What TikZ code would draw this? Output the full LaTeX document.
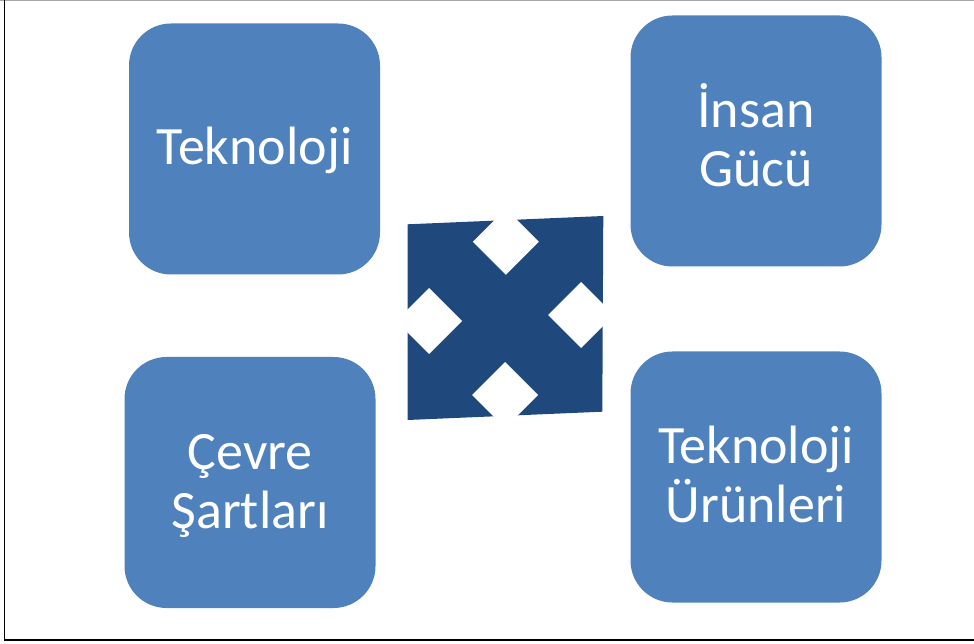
\documentclass[tikz,border=0pt]{standalone}
\usepackage{fontspec}
\setmainfont{Carlito}
\usetikzlibrary{positioning}

\definecolor{boxblue}{HTML}{4F81BD}
\definecolor{darkblue}{HTML}{1F497D}
% fixed line box, so that accents do not shift the text
\newcommand{\ls}{\rule[-13pt]{0pt}{58pt}}

\begin{document}
\begin{tikzpicture}[
    x=1pt, y=1pt,
    block/.style={rectangle, rounded corners=42pt, fill=boxblue, minimum width=251pt,
        minimum height=251pt, text=white, align=center,
        font=\fontsize{54}{59}\selectfont},
    notch/.style={fill=white}
]
    \useasboundingbox (0,0) rectangle (974,643);

    % frame
    \draw[gray!70, line width=1pt] (0,642.5) -- (974,642.5);
    \draw[black, line width=1.2pt] (4.5,643) -- (4.5,2);
    \draw[black, line width=2pt] (4.5,3) -- (974,3);

    % the four blocks
    \node[block] (tek)   at (254.5,494) {\ls Teknoloji};
    \node[block] (insan) at (756,502)   {\ls İnsan\\\ls Gücü};
    \node[block] (cevre) at (250,160.5) {\ls Çevre\\\ls Şartları};
    \node[block] (urun)  at (756,166)   {\ls Teknoloji\\\ls Ürünleri};

    % center sign
    \fill[darkblue] (407.7,418.7) -- (603.3,427) -- (602.3,231.3) -- (407.7,223) -- cycle;
    \foreach \cx/\cy in {505.8/401.2, 505/248, 429/322, 581/328} {
        \fill[notch] (\cx-33,\cy) -- (\cx,\cy+33) -- (\cx+33,\cy) -- (\cx,\cy-33) -- cycle;
    }

\end{tikzpicture}
\end{document}
